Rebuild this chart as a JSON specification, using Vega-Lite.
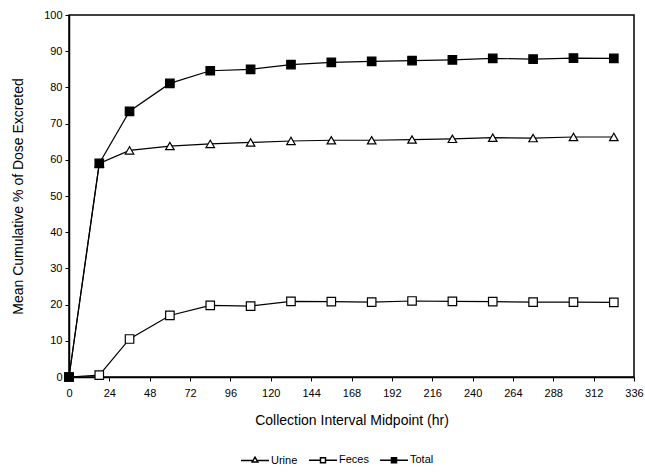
{
  "$schema": "https://vega.github.io/schema/vega-lite/v6.json",
  "autosize": "none",
  "width": 565,
  "height": 362,
  "padding": {"left": 69, "top": 15, "right": 11, "bottom": 95},
  "background": "white",
  "config": {
    "font": "Liberation Sans",
    "view": {"stroke": "black", "strokeWidth": 1.5},
    "axis": {"grid": false, "domainColor": "black", "tickColor": "black", "labelColor": "black", "titleColor": "black", "labelFont": "Liberation Sans", "titleFont": "Liberation Sans", "titleFontWeight": "normal"}
  },
  "data": {"values": [
    {"t": 0, "v": 0, "s": "Urine"}, {"t": 18, "v": 59, "s": "Urine"}, {"t": 36, "v": 62.6, "s": "Urine"}, {"t": 60, "v": 63.8, "s": "Urine"}, {"t": 84, "v": 64.4, "s": "Urine"}, {"t": 108, "v": 64.8, "s": "Urine"}, {"t": 132, "v": 65.2, "s": "Urine"}, {"t": 156, "v": 65.4, "s": "Urine"}, {"t": 180, "v": 65.4, "s": "Urine"}, {"t": 204, "v": 65.6, "s": "Urine"}, {"t": 228, "v": 65.8, "s": "Urine"}, {"t": 252, "v": 66.1, "s": "Urine"}, {"t": 276, "v": 66.0, "s": "Urine"}, {"t": 300, "v": 66.3, "s": "Urine"}, {"t": 324, "v": 66.3, "s": "Urine"},
    {"t": 0, "v": 0, "s": "Feces"}, {"t": 18, "v": 0.5, "s": "Feces"}, {"t": 36, "v": 10.5, "s": "Feces"}, {"t": 60, "v": 17, "s": "Feces"}, {"t": 84, "v": 19.8, "s": "Feces"}, {"t": 108, "v": 19.6, "s": "Feces"}, {"t": 132, "v": 20.9, "s": "Feces"}, {"t": 156, "v": 20.8, "s": "Feces"}, {"t": 180, "v": 20.7, "s": "Feces"}, {"t": 204, "v": 21.0, "s": "Feces"}, {"t": 228, "v": 20.9, "s": "Feces"}, {"t": 252, "v": 20.8, "s": "Feces"}, {"t": 276, "v": 20.7, "s": "Feces"}, {"t": 300, "v": 20.7, "s": "Feces"}, {"t": 324, "v": 20.6, "s": "Feces"},
    {"t": 0, "v": 0, "s": "Total"}, {"t": 18, "v": 59, "s": "Total"}, {"t": 36, "v": 73.4, "s": "Total"}, {"t": 60, "v": 81.1, "s": "Total"}, {"t": 84, "v": 84.6, "s": "Total"}, {"t": 108, "v": 85.0, "s": "Total"}, {"t": 132, "v": 86.3, "s": "Total"}, {"t": 156, "v": 86.9, "s": "Total"}, {"t": 180, "v": 87.2, "s": "Total"}, {"t": 204, "v": 87.4, "s": "Total"}, {"t": 228, "v": 87.6, "s": "Total"}, {"t": 252, "v": 88.0, "s": "Total"}, {"t": 276, "v": 87.8, "s": "Total"}, {"t": 300, "v": 88.1, "s": "Total"}, {"t": 324, "v": 88.0, "s": "Total"}
  ]},
  "encoding": {
    "x": {"field": "t", "type": "quantitative", "scale": {"domain": [0, 336], "nice": false},
      "axis": {"title": "Collection Interval Midpoint (hr)", "values": [0, 24, 48, 72, 96, 120, 144, 168, 192, 216, 240, 264, 288, 312, 336], "labelFontSize": 11, "titleFontSize": 14, "tickSize": 4, "labelPadding": 6, "titlePadding": 15, "domainWidth": 1.5, "labelFlush": false}},
    "y": {"field": "v", "type": "quantitative", "scale": {"domain": [0, 100], "nice": false},
      "axis": {"title": "Mean Cumulative % of Dose Excreted", "values": [0, 10, 20, 30, 40, 50, 60, 70, 80, 90, 100], "labelFontSize": 11, "titleFontSize": 14, "tickSize": 4, "labelPadding": 3, "titlePadding": 18, "domainWidth": 1.5}}
  },
  "layer": [
    {"mark": {"type": "line", "color": "black", "strokeWidth": 1.2},
     "encoding": {"detail": {"field": "s"}}},
    {"mark": {"type": "point", "filled": false, "stroke": "black", "strokeWidth": 1.2, "opacity": 1, "size": 72},
     "encoding": {
       "shape": {"condition": {"test": "datum.s === 'Urine'", "value": "triangle-up"}, "value": "square"},
       "fill": {"condition": {"test": "datum.s === 'Total'", "value": "black"}, "value": "white"}
     }},
    {"transform": [{"filter": "datum.t < 0"}],
     "mark": {"type": "point", "filled": true, "stroke": "black", "strokeWidth": 1, "opacity": 1, "size": 784},
     "encoding": {
       "shape": {"field": "s", "type": "nominal", "scale": {"domain": ["Urine", "Feces", "Total"], "range": ["M-1,0H-0.2M0.2,0H1M0,-0.24L0.2,0.1L-0.2,0.1Z", "M-1,0H-0.18M0.18,0H1M-0.18,-0.18H0.18V0.18H-0.18Z", "M-1,0H-0.18M0.18,0H1M-0.18,-0.18H0.18V0.18H-0.18Z"]},
         "legend": {"title": null, "orient": "none", "legendX": 171, "legendY": 430, "direction": "horizontal", "symbolSize": 784, "labelFontSize": 11, "labelColor": "black", "labelOffset": 1, "columnPadding": 8,
           "encode": {"symbols": {"update": {"stroke": {"value": "black"}, "strokeWidth": {"value": 1}, "size": {"value": 784}, "opacity": {"value": 1}}}}}},
       "fill": {"field": "s", "type": "nominal", "scale": {"domain": ["Urine", "Feces", "Total"], "range": ["white", "white", "black"]},
         "legend": {"title": null, "orient": "none", "legendX": 171, "legendY": 430, "direction": "horizontal", "symbolSize": 784, "labelFontSize": 11, "labelColor": "black", "labelOffset": 1, "columnPadding": 8,
           "encode": {"symbols": {"update": {"stroke": {"value": "black"}, "strokeWidth": {"value": 1}, "size": {"value": 784}, "opacity": {"value": 1}}}}}}
     }}
  ]
}
